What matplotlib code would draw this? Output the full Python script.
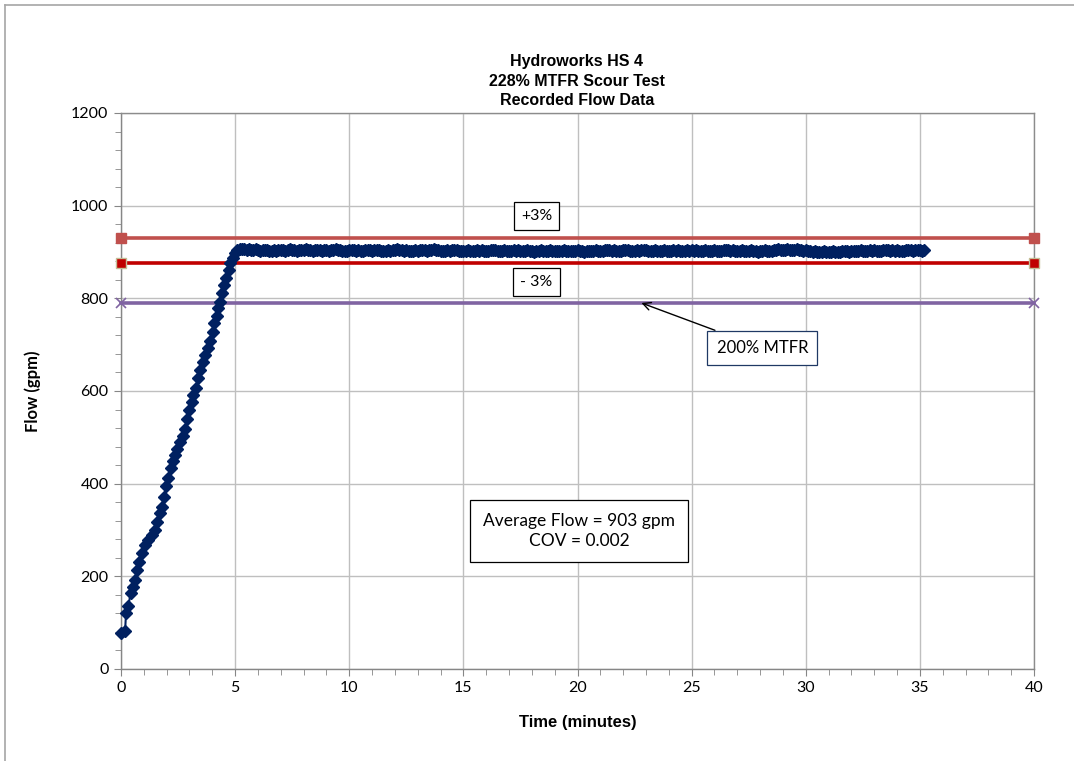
import matplotlib
matplotlib.use("Agg")
import matplotlib.pyplot as plt
from matplotlib.lines import Line2D
from matplotlib.ticker import MultipleLocator
import numpy as np

# ---------------- data ----------------
title_lines = ["Hydroworks HS 4", "228% MTFR Scour Test", "Recorded Flow Data"]
x_label = "Time (minutes)"
y_label = "Flow (gpm)"

ramp_time = [0.0, 0.18, 0.22, 0.32, 0.42, 0.51, 0.61, 0.72, 0.80, 0.91, 1.05, 1.20,
             1.34, 1.49, 1.59, 1.71, 1.78, 1.89, 1.97, 2.08, 2.18, 2.27, 2.37, 2.47,
             2.59, 2.70, 2.81, 2.91, 3.00, 3.10, 3.17, 3.29, 3.39, 3.46, 3.58, 3.68,
             3.79, 3.90, 4.01, 4.08, 4.20, 4.27, 4.34, 4.42, 4.52, 4.61, 4.71, 4.78,
             4.90, 5.00]
ramp_flow = [77, 83, 120, 136, 163, 178, 192, 214, 232, 250, 268, 278,
             289, 300, 318, 336, 350, 372, 394, 412, 433, 448, 462, 474,
             489, 503, 519, 539, 559, 577, 591, 606, 627, 645, 663, 678,
             692, 707, 728, 746, 761, 779, 793, 811, 829, 843, 861, 876,
             886, 897]

plateau_start = 5.1      # minutes
sample_interval = 0.1    # minutes between readings
plateau_flow = [
    905, 906, 907, 906, 905, 906, 904, 905, 906, 905, 903, 904, 905, 904, 902, 903, 904, 903, 904, 905,
    904, 903, 904, 906, 905, 904, 903, 904, 905, 904, 906, 905, 904, 903, 904, 905, 904, 903, 905, 904,
    903, 904, 905, 906, 905, 904, 903, 902, 903, 904, 905, 904, 903, 904, 903, 902, 904, 905, 904, 903,
    904, 905, 904, 903, 902, 903, 904, 903, 904, 905, 906, 905, 904, 903, 904, 903, 902, 903, 904, 903,
    904, 905, 904, 903, 904, 905, 906, 905, 904, 903, 902, 903, 904, 903, 904, 905, 904, 903, 902, 903,
    903, 904, 903, 902, 903, 904, 903, 904, 903, 902, 903, 904, 905, 904, 903, 902, 903, 904, 903, 902,
    903, 904, 903, 904, 903, 902, 903, 904, 903, 902, 901, 902, 903, 904, 903, 902, 903, 904, 903, 902,
    903, 902, 903, 904, 903, 902, 903, 902, 903, 904, 903, 902, 901, 902, 903, 902, 903, 904, 903, 902,
    903, 904, 905, 904, 903, 904, 903, 902, 903, 904, 905, 904, 903, 902, 903, 904, 903, 904, 905, 904,
    903, 902, 903, 904, 903, 902, 903, 904, 903, 902, 903, 904, 903, 904, 903, 902, 903, 904, 903, 904,
    903, 904, 903, 902, 903, 904, 903, 902, 903, 904, 903, 902, 903, 904, 905, 904, 903, 904, 903, 902,
    903, 904, 903, 902, 903, 904, 903, 902, 901, 902, 903, 904, 903, 902, 903, 904, 905, 906, 905, 904,
    905, 906, 905, 904, 905, 906, 905, 904, 903, 904, 903, 902, 901, 902, 901, 900, 901, 902, 901, 900,
    901, 902, 901, 900, 901, 902, 903, 902, 901, 902, 903, 902, 903, 904, 903, 902, 903, 904, 903, 904,
    903, 902, 903, 904, 905, 904, 903, 904, 903, 904, 903, 902, 903, 904, 905, 904, 903, 904, 905, 904,
    903, 904,
]

limit_x = [0, 40]
plus3_flow = [930, 930]
minus3_flow = [876, 876]
mtfr200_flow = [790, 790]

x_ticks = [0, 5, 10, 15, 20, 25, 30, 35, 40]
y_ticks = [0, 200, 400, 600, 800, 1000, 1200]

avg_text = "Average Flow = 903 gpm\nCOV = 0.002"

# ---------------- figure ----------------
W, H = 1074, 761
fig = plt.figure(figsize=(W / 100, H / 100), dpi=100)
ax = fig.add_axes([121 / W, (H - 669) / H, (1034 - 121) / W, (669 - 113) / H])

tick_font = "Lato"
title_font = "Liberation Sans"

plateau_time = plateau_start + sample_interval * np.arange(len(plateau_flow))
flow_time = np.concatenate([ramp_time, plateau_time])
flow_vals = np.concatenate([ramp_flow, plateau_flow])

navy = "#002060"
ax.plot(limit_x, plus3_flow, color="#C0504D", lw=2.6, marker="s", ms=6.5,
        mfc="#C0504D", mec="#C0504D", zorder=3, clip_on=False)
ax.plot(limit_x, minus3_flow, color="#C00000", lw=2.6, marker="s", ms=6.5,
        mfc="#C00000", mec="#C4BD97", mew=1.0, zorder=3, clip_on=False)
ax.plot(limit_x, mtfr200_flow, color="#8064A2", lw=2.6, marker="x", ms=7,
        mec="#8064A2", mew=1.2, zorder=3, clip_on=False)
ax.plot(flow_time, flow_vals, color=navy, lw=1.5, marker="D", ms=6.3,
        mfc=navy, mec=navy, zorder=4, clip_on=False)

ax.set_xlim(0, 40)
ax.set_ylim(0, 1200)
ax.set_xticks(x_ticks)
ax.set_yticks(y_ticks)
ax.xaxis.set_minor_locator(MultipleLocator(1))
ax.yaxis.set_minor_locator(MultipleLocator(40))
ax.grid(True, which="major", color="#BFBFBF", lw=1.0)
ax.set_axisbelow(True)
for side in ["left", "bottom"]:
    ax.spines[side].set_color("#868686")
    ax.spines[side].set_linewidth(1.0)
for side in ["top", "right"]:
    ax.spines[side].set_color("#8C8C8C")
    ax.spines[side].set_linewidth(1.0)
ax.tick_params(axis="both", which="major", direction="out", length=5, color="#868686",
               labelsize=11.5, labelcolor="black", pad=4)
ax.tick_params(axis="both", which="minor", direction="out", length=4, color="#868686")
for lab in ax.get_xticklabels() + ax.get_yticklabels():
    lab.set_fontfamily(tick_font)

ax.set_xlabel(x_label, fontsize=12, fontweight="bold", family=title_font, labelpad=14)
ax.set_ylabel(y_label, fontsize=12, fontweight="bold", family=tick_font, labelpad=22)

fig.text(577 / W, 1 - 81 / H, "\n".join(title_lines), ha="center", va="center",
         fontsize=11.5, fontweight="bold", family=title_font, linespacing=1.38)

box = dict(boxstyle="square,pad=0.45", fc="white", ec="black", lw=0.9)
ax.text(18.2, 978, "+3%", ha="center", va="center", fontsize=11.5, family=tick_font,
        bbox=box, zorder=6)
ax.text(18.2, 835, "- 3%", ha="center", va="center", fontsize=11.5, family=tick_font,
        bbox=box, zorder=6)
ax.annotate("200% MTFR", xy=(22.8, 790), xytext=(28.1, 693), ha="center", va="center",
            fontsize=12, family=tick_font, zorder=6,
            bbox=dict(boxstyle="square,pad=0.55", fc="white", ec="#1F3864", lw=0.9),
            arrowprops=dict(arrowstyle="->", color="black", lw=1.0, shrinkA=0, shrinkB=0,
                            mutation_scale=14))
ax.text(20.07, 298, avg_text, ha="center", va="center", fontsize=12.5, family=tick_font,
        linespacing=1.3, zorder=6,
        bbox=dict(boxstyle="square,pad=0.75", fc="white", ec="black", lw=0.9))

# chart area border (top and left visible)
fig.add_artist(Line2D([5 / W, 1.0], [1 - 5 / H, 1 - 5 / H], transform=fig.transFigure,
                      color="#A6A6A6", lw=1.2))
fig.add_artist(Line2D([5 / W, 5 / W], [0, 1 - 5 / H], transform=fig.transFigure,
                      color="#A6A6A6", lw=1.2))

fig.savefig("out.png", dpi=100)
